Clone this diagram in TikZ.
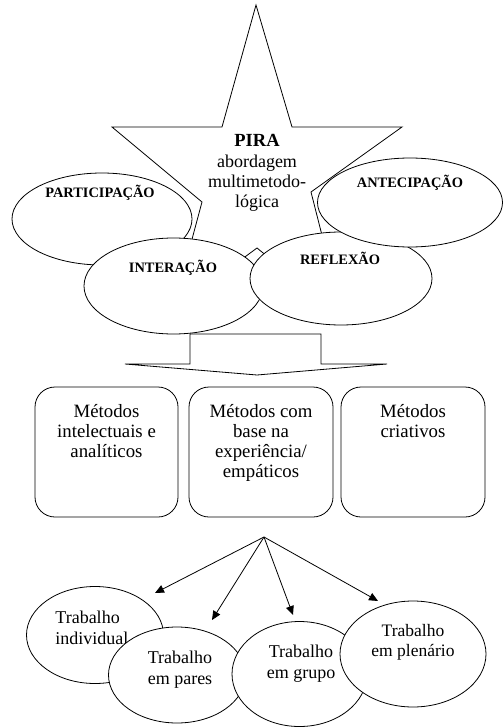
\documentclass[tikz,border=0pt]{standalone}
\usepackage{fontspec}
\setmainfont{Liberation Serif}
\usetikzlibrary{shapes.geometric,arrows.meta}
\begin{document}
\begin{tikzpicture}[x=1pt,y=-1pt,
  every path/.style={line width=0.8pt},
  ell/.style={draw, ellipse, fill=white, inner sep=0pt},
  caplab/.style={anchor=base, inner sep=0pt, font=\bfseries\fontsize{14.4}{16}\selectfont},
  mbox/.style={draw, rounded corners=20pt, inner sep=0pt, font=\fontsize{18.8}{20}\selectfont},
  btext/.style={inner sep=0pt, align=center, font=\fontsize{18}{21}\selectfont},
  arr/.style={-{Triangle[length=9pt,width=8pt]}}]
\useasboundingbox (0,0) rectangle (503,727);
% star
\coordinate (s1) at (256,5);
\coordinate (s2) at (292,127);
\coordinate (s3) at (402,127);
\coordinate (s4) at (311,192);
\coordinate (s5) at (343,318);
\coordinate (s6) at (257,248);
\coordinate (s7) at (173,310);
\coordinate (s8) at (202,202);
\coordinate (s9) at (112,127);
\coordinate (s10) at (222,127);
\draw[fill=white] (s1) -- (s2) -- (s3) -- (s4) -- (s5) -- (s6) -- (s7) -- (s8) -- (s9) -- (s10) -- cycle;
\node[inner sep=0pt, anchor=north, align=center, font=\fontsize{18}{20}\selectfont] (pira) at (257,134)
  {{\bfseries\fontsize{18.5}{20}\selectfont PIRA}\\[1pt] abordagem\\ multimetodo-\\ lógica};
% four ellipses
\node[ell, minimum width=180pt, minimum height=92pt] (part) at (102,219) {};
\node[caplab] (partT) at (100,198) {PARTICIPAÇÃO};
\node[ell, minimum width=179pt, minimum height=96pt] (inter) at (173.5,286) {};
\node[caplab] (interT) at (173,272) {INTERAÇÃO};
\node[ell, minimum width=182pt, minimum height=93pt] (refl) at (341,278.5) {};
\node[caplab] (reflT) at (340,264) {REFLEXÃO};
\node[ell, minimum width=185pt, minimum height=89pt] (ante) at (410,202.5) {};
\node[caplab] (anteT) at (410,188) {ANTECIPAÇÃO};
% block arrow
\coordinate (a1) at (190,334);
\coordinate (a2) at (321,334);
\coordinate (a3) at (321,364);
\coordinate (a4) at (387,364);
\coordinate (a5) at (257,375);
\coordinate (a6) at (125,364);
\coordinate (a7) at (190,364);
\draw (a1) -- (a2) -- (a3) -- (a4) -- (a5) -- (a6) -- (a7) -- cycle;
% method boxes
\node[mbox] (b1) at (106.5,452) {\parbox[c][130pt][t]{143pt}{\centering\rule{0pt}{30pt}Métodos\\intelectuais e\\analíticos}};
\node[mbox] (b2) at (261,452) {\parbox[c][130pt][t]{144pt}{\centering\rule{0pt}{30pt}Métodos com\\base na\\experiência/\\empáticos}};
\node[mbox] (b3) at (413,452) {\parbox[c][130pt][t]{144pt}{\centering\rule{0pt}{30pt}Métodos\\criativos}};
% arrows
\coordinate (src) at (264,537);
\coordinate (t1) at (155,593);
\coordinate (t2) at (212,620);
\coordinate (t3) at (293,615);
\coordinate (t4) at (378,601);
\draw[arr] (src) -- (t1);
\draw[arr] (src) -- (t2);
\draw[arr] (src) -- (t3);
\draw[arr] (src) -- (t4);
% work form ellipses
\node[ell, minimum width=137pt, minimum height=97pt] (e1) at (95,635) {};
\node[btext, align=left, anchor=west] (e1T) at (55,627.5) {Trabalho\\individual};
\node[ell, minimum width=137pt, minimum height=96pt] (e2) at (177,675) {};
\node[btext] (e2T) at (180,669.5) {Trabalho\\em pares};
\node[ell, minimum width=135pt, minimum height=105pt] (e3) at (299.5,674) {};
\node[btext] (e3T) at (301,664) {Trabalho\\em grupo};
\node[ell, minimum width=146pt, minimum height=106pt] (e4) at (413,654) {};
\node[btext, font=\fontsize{17.5}{20}\selectfont] (e4T) at (413,642) {Trabalho\\em plenário};
\end{tikzpicture}
\end{document}
